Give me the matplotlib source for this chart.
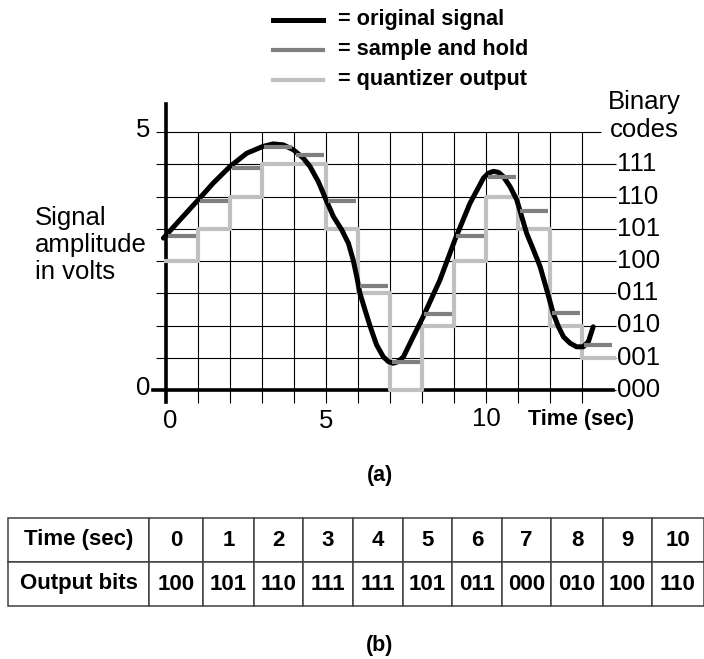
import matplotlib
matplotlib.use('Agg')
import matplotlib.pyplot as plt

plt.rcParams['font.family'] = ['Liberation Sans', 'DejaVu Sans']

# original signal (time in s, height in quantizer steps)
signal_t = [-0.08, 0.44, 1.01, 1.48, 2.0, 2.52, 3.02, 3.35, 3.67, 3.98, 4.29, 4.5, 4.76, 5.0,
            5.23, 5.49, 5.7, 5.85, 5.96, 6.06, 6.22, 6.38, 6.58, 6.79, 6.95, 7.1, 7.26, 7.42,
            7.73, 8.04, 8.56, 9.03, 9.5, 9.92, 10.07, 10.23, 10.39, 10.54, 10.75, 10.96,
            11.27, 11.48, 11.69, 11.9, 12.1, 12.26, 12.42, 12.63, 12.83, 13.04, 13.2, 13.35]
signal_y = [4.71, 5.28, 5.90, 6.42, 6.93, 7.34, 7.55, 7.63, 7.60, 7.45, 7.19, 6.93, 6.46, 5.90,
            5.38, 4.97, 4.55, 4.03, 3.52, 3.0, 2.48, 1.97, 1.40, 1.03, 0.88, 0.83, 0.88, 1.03,
            1.66, 2.28, 3.41, 4.66, 5.79, 6.57, 6.72, 6.78, 6.75, 6.62, 6.31, 5.9,
            4.86, 4.35, 3.83, 3.1, 2.38, 1.97, 1.65, 1.45, 1.34, 1.34, 1.5, 1.96]

# sample and hold levels at t = 0..13
sample_t = list(range(14))
sample_y = [4.79, 5.87, 6.88, 7.52, 7.28, 5.87, 3.24, 0.88, 2.36, 4.79, 6.62, 5.56, 2.38, 1.39]

# quantizer output codes at t = 0..13
codes = [4, 5, 6, 7, 7, 5, 3, 0, 2, 4, 6, 5, 2, 1]

n_levels = 8
volts_full = 5
volt_ticks = [0, 5]
time_ticks = [0, 5, 10]
table_times = list(range(11))

legend_labels = ['= original signal', '= sample and hold', '= quantizer output']
legend_colors = ['black', '#808080', '#c0c0c0']

W, H = 704, 659
fig = plt.figure(figsize=(W / 100, H / 100), dpi=100)

# plot area: t 0..13 -> px 166..582, level 0..8 -> px 390..132
ax = fig.add_axes([166 / W, 1 - 390 / H, 416 / W, 258 / H])
ax.set_xlim(0, 13)
ax.set_ylim(0, n_levels)
ax.axis('off')

# grid
ax.hlines(range(n_levels), -0.31, 14.06, color='black', lw=0.8, clip_on=False, zorder=1)
ax.hlines(n_levels, -0.31, 13.6, color='black', lw=0.8, clip_on=False, zorder=1)
ax.vlines(range(1, 14), -0.4, n_levels, color='black', lw=0.8, clip_on=False, zorder=1)
# axes lines
ax.plot([0, 0], [-0.37, 8.87], color='black', lw=2.6, clip_on=False, zorder=2)
ax.plot([-0.4, 13.97], [0, 0], color='black', lw=2.6, clip_on=False, zorder=2)

# quantizer output
step_t = list(range(len(codes) + 1))
ax.step(step_t, codes + [codes[-1]], where='post', color='#c0c0c0', lw=3,
        clip_on=False, zorder=3)
# original signal
ax.plot(signal_t, signal_y, color='black', lw=3.6, clip_on=False, zorder=4,
        solid_capstyle='round', solid_joinstyle='round')
# sample and hold
ax.hlines(sample_y, [t + 0.05 for t in sample_t], [t + 0.95 for t in sample_t],
          color='#808080', lw=3, clip_on=False, zorder=5)

# tick labels
for v in volt_ticks:
    ax.text(-0.5, v * n_levels / volts_full + 0.05, str(v), ha='right', va='center',
            fontsize=18.5)
for t in time_ticks:
    ax.text(t + (0.13 if t == 0 else 0), -0.95 + (0.05 if t == 10 else 0), str(t),
            ha='center', va='center', fontsize=18.5)
for k in range(n_levels):
    ax.text(14.08, k, format(k, '03b'), ha='left', va='center', fontsize=18.5)

# overlay in pixel coordinates for the loose texts
ov = fig.add_axes([0, 0, 1, 1], zorder=-1)
ov.set_xlim(0, W)
ov.set_ylim(H, 0)
ov.axis('off')

for i, (lab, col) in enumerate(zip(legend_labels, legend_colors)):
    y = 20 + 30 * i
    ov.plot([273, 323], [y, y], color=col, lw=3.6 if i == 0 else 3)
    ov.text(338, y, lab, ha='left', va='center', fontsize=15.7, fontweight='bold')

ov.text(35, 245, 'Signal\namplitude\nin volts', ha='left', va='center', fontsize=18.5,
        linespacing=1.15)
ov.text(644, 116, 'Binary\ncodes', ha='center', va='center', fontsize=18.5,
        linespacing=1.2)
ov.text(581, 420, 'Time (sec)', ha='center', va='center', fontsize=15.5, fontweight='bold')
ov.text(380, 475, '(a)', ha='center', va='center', fontsize=15.5, fontweight='bold')
ov.text(380, 645, '(b)', ha='center', va='center', fontsize=15.5, fontweight='bold')

# table (b)
tax = fig.add_axes([8 / W, 1 - 606 / H, 696 / W, 88 / H])
tax.axis('off')
rows = [['Time (sec)'] + [str(t) for t in table_times],
        ['Output bits'] + [format(codes[t], '03b') for t in table_times]]
col_w = [141, 54, 51, 49, 50, 50, 49, 50, 49, 52, 49, 52]
tbl = tax.table(cellText=rows, colWidths=col_w, cellLoc='center', bbox=[0, 0, 1, 1])
tbl.auto_set_font_size(False)
tbl.set_fontsize(16)
for (r, c), cell in tbl.get_celld().items():
    cell.set_edgecolor('#404040')
    cell.set_linewidth(1.1)
    cell.get_text().set_fontweight('bold')
    if c == 0:
        cell._loc = 'right'
        cell.PAD = 0.07

fig.savefig('out.png', dpi=100)
